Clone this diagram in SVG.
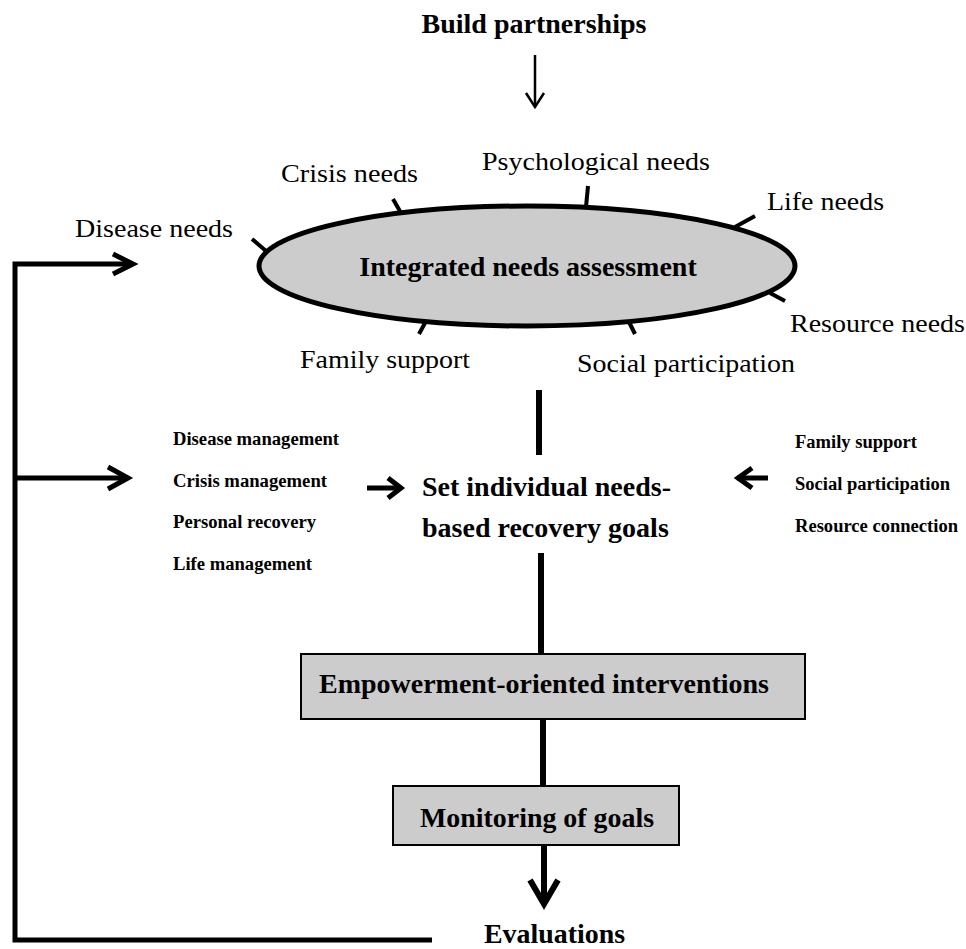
<svg xmlns="http://www.w3.org/2000/svg" width="966" height="949" viewBox="0 0 966 949">
<style>
.bg{fill:#ffffff}
.t{font-family:"Liberation Serif","Times New Roman",serif;fill:#000}
.b{font-weight:bold}
.lbl{font-size:26px}
.big{font-size:28px}
.sm{font-size:18.5px}
.shape{fill:#cccccc;stroke:#000}
.ln{fill:none;stroke:#000;stroke-linecap:butt;stroke-linejoin:miter}
.tick{stroke:#000;stroke-width:4;fill:none}
</style>
<rect class="bg" x="0" y="0" width="966" height="949"/>

<g id="connectors">
  <path class="ln" d="M535 55 V107" stroke-width="2.5"/>
  <polyline class="ln" points="526,93 535,107 544,93" stroke-width="2.5"/>
  <path class="ln" d="M539 390 V455" stroke-width="6"/>
  <path class="ln" d="M541 553 V654" stroke-width="6"/>
  <path class="ln" d="M543 719 V786" stroke-width="6"/>
  <path class="ln" d="M544 845 V903" stroke-width="6"/>
  <polyline class="ln" points="530,880 544,904 558,880" stroke-width="6"/>
  <path class="ln" d="M432 940 H15 V264 H133" stroke-width="5"/>
  <polyline class="ln" points="113,254 133,264 113,274" stroke-width="5"/>
  <path class="ln" d="M15 478 H128" stroke-width="5"/>
  <polyline class="ln" points="108,467 128,478 108,489" stroke-width="5"/>
  <path class="ln" d="M367 488 H400" stroke-width="5"/>
  <polyline class="ln" points="388,478 401,488 388,498" stroke-width="5"/>
  <path class="ln" d="M768 478 H737" stroke-width="5"/>
  <polyline class="ln" points="752,468 738,478 752,488" stroke-width="5"/>
</g>

<g id="build-partnerships">
  <text class="t b big" x="534" y="33" text-anchor="middle">Build partnerships</text>
</g>

<g id="needs-assessment">
  <line class="tick" x1="252" y1="239" x2="266" y2="251"/>
  <line class="tick" x1="393" y1="199" x2="401" y2="213"/>
  <line class="tick" x1="588" y1="186" x2="586" y2="207"/>
  <line class="tick" x1="755" y1="216" x2="735" y2="227"/>
  <line class="tick" x1="770" y1="293" x2="785" y2="301"/>
  <line class="tick" x1="629" y1="322" x2="635" y2="334"/>
  <line class="tick" x1="425" y1="323" x2="419" y2="334"/>
  <ellipse class="shape" cx="527" cy="266" rx="268" ry="60" stroke-width="5"/>
  <text class="t b big" x="528" y="276" text-anchor="middle">Integrated needs assessment</text>
</g>

<g id="need-labels">
  <text class="t lbl" x="75" y="237" textLength="158" lengthAdjust="spacingAndGlyphs">Disease needs</text>
  <text class="t lbl" x="281" y="182" textLength="137" lengthAdjust="spacingAndGlyphs">Crisis needs</text>
  <text class="t lbl" x="482" y="170" textLength="228" lengthAdjust="spacingAndGlyphs">Psychological needs</text>
  <text class="t lbl" x="767" y="210" textLength="117" lengthAdjust="spacingAndGlyphs">Life needs</text>
  <text class="t lbl" x="790" y="332" textLength="175" lengthAdjust="spacingAndGlyphs">Resource needs</text>
  <text class="t lbl" x="577" y="372" textLength="218" lengthAdjust="spacingAndGlyphs">Social participation</text>
  <text class="t lbl" x="300" y="368" textLength="170" lengthAdjust="spacingAndGlyphs">Family support</text>
</g>

<g id="left-goals-list">
  <text class="t b sm" x="173" y="445" textLength="166" lengthAdjust="spacingAndGlyphs">Disease management</text>
  <text class="t b sm" x="173" y="487" textLength="154" lengthAdjust="spacingAndGlyphs">Crisis management</text>
  <text class="t b sm" x="173" y="528" textLength="143" lengthAdjust="spacingAndGlyphs">Personal recovery</text>
  <text class="t b sm" x="173" y="570" textLength="139" lengthAdjust="spacingAndGlyphs">Life management</text>
</g>

<g id="right-goals-list">
  <text class="t b sm" x="795" y="448" textLength="122" lengthAdjust="spacingAndGlyphs">Family support</text>
  <text class="t b sm" x="795" y="490" textLength="155" lengthAdjust="spacingAndGlyphs">Social participation</text>
  <text class="t b sm" x="795" y="532" textLength="163" lengthAdjust="spacingAndGlyphs">Resource connection</text>
</g>

<g id="recovery-goals">
  <text class="t b big" x="422" y="496">Set individual needs-</text>
  <text class="t b big" x="422" y="537">based recovery goals</text>
</g>

<g id="empowerment-interventions">
  <rect class="shape" x="301" y="654" width="504" height="65" stroke-width="2"/>
  <text class="t b big" x="319" y="693" textLength="450" lengthAdjust="spacingAndGlyphs">Empowerment-oriented interventions</text>
</g>

<g id="monitoring-goals">
  <rect class="shape" x="393" y="786" width="286" height="59" stroke-width="2"/>
  <text class="t b big" x="420" y="827" textLength="234" lengthAdjust="spacingAndGlyphs">Monitoring of goals</text>
</g>

<g id="evaluations">
  <text class="t b big" x="484" y="943" textLength="141" lengthAdjust="spacingAndGlyphs">Evaluations</text>
</g>
</svg>
